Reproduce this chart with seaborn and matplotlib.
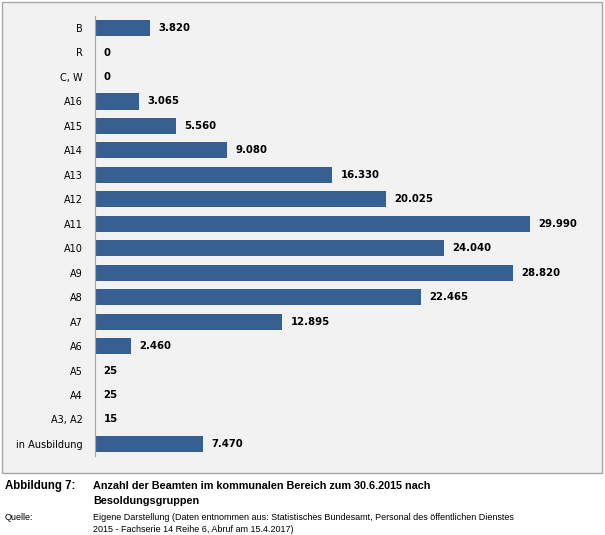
import pandas as pd
import matplotlib
matplotlib.use("Agg")
import matplotlib.pyplot as plt
from matplotlib.patches import Rectangle
import seaborn as sns

# Data
groups = ["B", "R", "C, W", "A16", "A15", "A14", "A13", "A12", "A11", "A10",
          "A9", "A8", "A7", "A6", "A5", "A4", "A3, A2", "in Ausbildung"]
counts = [3820, 0, 0, 3065, 5560, 9080, 16330, 20025, 29990, 24040,
          28820, 22465, 12895, 2460, 25, 25, 15, 7470]
labels = ["3.820", "0", "0", "3.065", "5.560", "9.080", "16.330", "20.025", "29.990",
          "24.040", "28.820", "22.465", "12.895", "2.460", "25", "25", "15", "7.470"]

df = pd.DataFrame({"Gruppe": groups, "Anzahl": counts})

plt.rcParams["font.family"] = ["DejaVu Sans"]
CAP_FONT = ["Liberation Sans", "DejaVu Sans"]

W, H = 605, 535
fig = plt.figure(figsize=(W / 100, H / 100), dpi=100)
fig.patch.set_facecolor("white")

# Grey chart box
fig.patches.append(Rectangle((2 / W, 1 - 473 / H), 600 / W, 471 / H,
                             transform=fig.transFigure, facecolor="#F2F2F2",
                             edgecolor="#A6A6A6", linewidth=1.0, zorder=-5))

ax = fig.add_axes([95 / W, 1 - 456.2 / H, 495 / W, 440.4 / H])
ax.set_facecolor("none")
ax.set_zorder(2)
sns.barplot(data=df, x="Anzahl", y="Gruppe", orient="h", color="#376092",
            saturation=1, width=0.66, ax=ax)
ax.set_xlim(0, 34100)
ax.set_ylim(17.5, -0.5)

for i, (v, t) in enumerate(zip(counts, labels)):
    ax.annotate(t, (v, i), xytext=(6, 0), textcoords="offset points",
                ha="left", va="center", fontsize=7.3, fontweight="bold", color="black")

for s in ["top", "right", "bottom"]:
    ax.spines[s].set_visible(False)
ax.spines["left"].set_color("#A6A6A6")
ax.set_xticks([])
ax.tick_params(axis="y", length=0, pad=9, labelsize=7)
ax.set_xlabel("")
ax.set_ylabel("")

# Caption
fig.text(5 / W, 1 - 486 / H, "Abbildung 7:", fontsize=8.3, fontweight="bold", va="center",
         family=CAP_FONT)
fig.text(93 / W, 1 - 486 / H, "Anzahl der Beamten im kommunalen Bereich zum 30.6.2015 nach",
         fontsize=7.8, fontweight="bold", va="center", family=CAP_FONT)
fig.text(93 / W, 1 - 501 / H, "Besoldungsgruppen", fontsize=7.8, fontweight="bold",
         va="center", family=CAP_FONT)
fig.text(5 / W, 1 - 517 / H, "Quelle:", fontsize=6.5, va="center", family=CAP_FONT)
fig.text(93 / W, 1 - 517 / H,
         "Eigene Darstellung (Daten entnommen aus: Statistisches Bundesamt, Personal des öffentlichen Dienstes",
         fontsize=6.5, va="center", family=CAP_FONT)
fig.text(93 / W, 1 - 530 / H, "2015 - Fachserie 14 Reihe 6, Abruf am 15.4.2017)",
         fontsize=6.5, va="center", family=CAP_FONT)

fig.savefig("out.png", dpi=100)
